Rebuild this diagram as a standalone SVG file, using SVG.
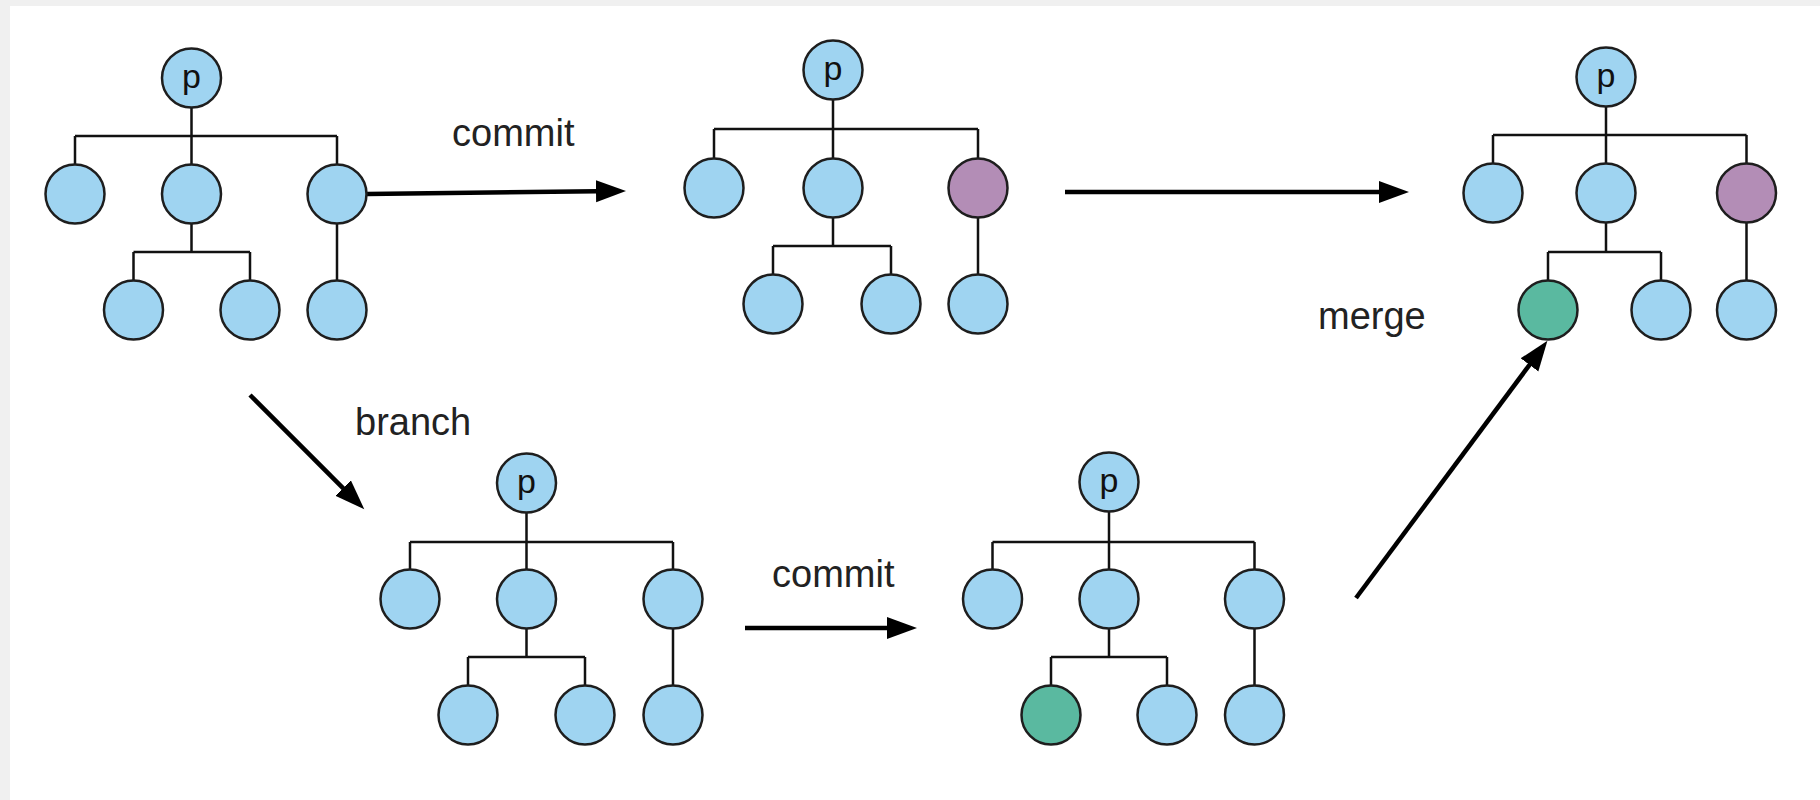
<svg xmlns="http://www.w3.org/2000/svg" width="1820" height="800" viewBox="0 0 1820 800">
  <defs>
    <style>
      .bg { fill: #f0f0f0; }
      .paper { fill: #ffffff; }
      .n { stroke: #1e1e1e; stroke-width: 2.5; }
      .blue { fill: #9fd4f1; }
      .purple { fill: #b38db6; }
      .green { fill: #5ab9a0; }
      .edge { fill: none; stroke: #111; stroke-width: 2.5; }
      .arrow { fill: none; stroke: #000; stroke-width: 4.5; marker-end: url(#ah); }
      .lbl { font-family: "Liberation Sans", Arial, sans-serif; font-size: 38px; fill: #222; }
      .p { font-family: "Liberation Sans", Arial, sans-serif; font-size: 34px; fill: #111; text-anchor: middle; }
    </style>
    <marker id="ah" markerUnits="userSpaceOnUse" markerWidth="32" markerHeight="24" refX="1" refY="11" orient="auto">
      <path d="M0,0 L30,11 L0,22 Z" fill="#000"/>
    </marker>
  </defs>

  <rect class="bg" x="0" y="0" width="1820" height="800"/>
  <rect class="paper" x="10" y="6" width="1810" height="794"/>

  <g id="connectors">
    <g id="tree-edges">
      <path class="edge" d="M191.5,78 V136 M75,136 H337 M75,136 V194 M191.5,136 V194 M337,136 V194 M191.5,194 V252 M133.5,252 H250 M133.5,252 V310 M250,252 V310 M337,194 V310"/>
      <path class="edge" d="M833,70 V129 M714,129 H978 M714,129 V188 M833,129 V188 M978,129 V188 M833,188 V246 M773,246 H891 M773,246 V304 M891,246 V304 M978,188 V304"/>
      <path class="edge" d="M1606,77 V135 M1493,135 H1746.5 M1493,135 V193 M1606,135 V193 M1746.5,135 V193 M1606,193 V252 M1548,252 H1661 M1548,252 V310 M1661,252 V310 M1746.5,193 V310"/>
      <path class="edge" d="M526.5,483 V542 M410,542 H673 M410,542 V599 M526.5,542 V599 M673,542 V599 M526.5,599 V657 M468,657 H585 M468,657 V715 M585,657 V715 M673,599 V715"/>
      <path class="edge" d="M1109,482 V542 M992.5,542 H1254.5 M992.5,542 V599 M1109,542 V599 M1254.5,542 V599 M1109,599 V657 M1051,657 H1167 M1051,657 V715 M1167,657 V715 M1254.5,599 V715"/>
    </g>
    <g id="arrows">
      <line id="arrow-commit-top" class="arrow" x1="367" y1="194" x2="597" y2="191.3"/>
      <line id="arrow-top-right" class="arrow" x1="1065" y1="192" x2="1380" y2="192"/>
      <line id="arrow-branch" class="arrow" x1="250" y1="395" x2="343.8" y2="488.8"/>
      <line id="arrow-commit-bottom" class="arrow" x1="745" y1="628" x2="888" y2="628"/>
      <line id="arrow-merge" class="arrow" x1="1356" y1="598" x2="1530.1" y2="364.1"/>
    </g>
  </g>

  <g id="labels">
    <text class="lbl" x="452" y="146">commit</text>
    <text class="lbl" x="355" y="435">branch</text>
    <text class="lbl" x="772" y="587">commit</text>
    <text class="lbl" x="1318" y="329">merge</text>
  </g>

  <!-- Tree 1 -->
  <g id="t1-p"><circle class="n blue" cx="191.5" cy="78" r="29.5"/><text class="p" x="191.5" y="88">p</text></g>
  <g id="t1-a"><circle class="n blue" cx="75" cy="194" r="29.5"/></g>
  <g id="t1-b"><circle class="n blue" cx="191.5" cy="194" r="29.5"/></g>
  <g id="t1-c"><circle class="n blue" cx="337" cy="194" r="29.5"/></g>
  <g id="t1-d"><circle class="n blue" cx="133.5" cy="310" r="29.5"/></g>
  <g id="t1-e"><circle class="n blue" cx="250" cy="310" r="29.5"/></g>
  <g id="t1-f"><circle class="n blue" cx="337" cy="310" r="29.5"/></g>

  <!-- Tree 2 -->
  <g id="t2-p"><circle class="n blue" cx="833" cy="70" r="29.5"/><text class="p" x="833" y="80">p</text></g>
  <g id="t2-a"><circle class="n blue" cx="714" cy="188" r="29.5"/></g>
  <g id="t2-b"><circle class="n blue" cx="833" cy="188" r="29.5"/></g>
  <g id="t2-c"><circle class="n purple" cx="978" cy="188" r="29.5"/></g>
  <g id="t2-d"><circle class="n blue" cx="773" cy="304" r="29.5"/></g>
  <g id="t2-e"><circle class="n blue" cx="891" cy="304" r="29.5"/></g>
  <g id="t2-f"><circle class="n blue" cx="978" cy="304" r="29.5"/></g>

  <!-- Tree 3 -->
  <g id="t3-p"><circle class="n blue" cx="1606" cy="77" r="29.5"/><text class="p" x="1606" y="87">p</text></g>
  <g id="t3-a"><circle class="n blue" cx="1493" cy="193" r="29.5"/></g>
  <g id="t3-b"><circle class="n blue" cx="1606" cy="193" r="29.5"/></g>
  <g id="t3-c"><circle class="n purple" cx="1746.5" cy="193" r="29.5"/></g>
  <g id="t3-d"><circle class="n green" cx="1548" cy="310" r="29.5"/></g>
  <g id="t3-e"><circle class="n blue" cx="1661" cy="310" r="29.5"/></g>
  <g id="t3-f"><circle class="n blue" cx="1746.5" cy="310" r="29.5"/></g>

  <!-- Tree 4 -->
  <g id="t4-p"><circle class="n blue" cx="526.5" cy="483" r="29.5"/><text class="p" x="526.5" y="493">p</text></g>
  <g id="t4-a"><circle class="n blue" cx="410" cy="599" r="29.5"/></g>
  <g id="t4-b"><circle class="n blue" cx="526.5" cy="599" r="29.5"/></g>
  <g id="t4-c"><circle class="n blue" cx="673" cy="599" r="29.5"/></g>
  <g id="t4-d"><circle class="n blue" cx="468" cy="715" r="29.5"/></g>
  <g id="t4-e"><circle class="n blue" cx="585" cy="715" r="29.5"/></g>
  <g id="t4-f"><circle class="n blue" cx="673" cy="715" r="29.5"/></g>

  <!-- Tree 5 -->
  <g id="t5-p"><circle class="n blue" cx="1109" cy="482" r="29.5"/><text class="p" x="1109" y="492">p</text></g>
  <g id="t5-a"><circle class="n blue" cx="992.5" cy="599" r="29.5"/></g>
  <g id="t5-b"><circle class="n blue" cx="1109" cy="599" r="29.5"/></g>
  <g id="t5-c"><circle class="n blue" cx="1254.5" cy="599" r="29.5"/></g>
  <g id="t5-d"><circle class="n green" cx="1051" cy="715" r="29.5"/></g>
  <g id="t5-e"><circle class="n blue" cx="1167" cy="715" r="29.5"/></g>
  <g id="t5-f"><circle class="n blue" cx="1254.5" cy="715" r="29.5"/></g>
</svg>
